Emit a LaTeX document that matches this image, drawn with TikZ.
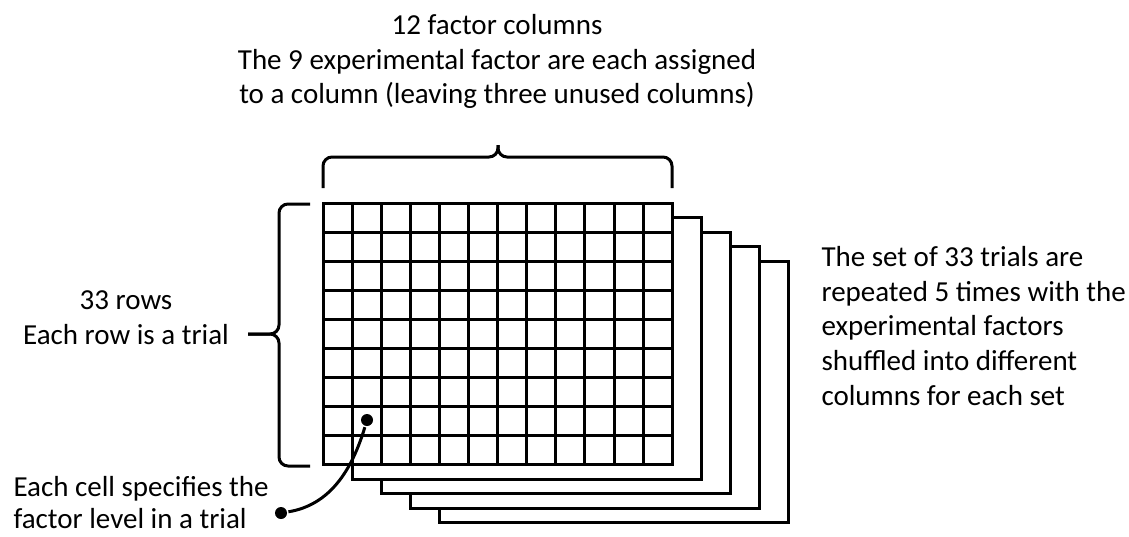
\documentclass[tikz,border=0pt]{standalone}
\usepackage{fontspec}
\setmainfont{Carlito}
\usepackage{tikz}
\usetikzlibrary{calc}

\begin{document}
\begin{tikzpicture}[x=1pt,y=-1pt,line width=3pt,
  txt/.style={inner sep=0pt,font=\fontsize{29}{34.6}\selectfont},
  dot/.style={circle,fill,inner sep=0pt,minimum size=12pt}]
\useasboundingbox (0,0) rectangle (1129,536);
% the four repeated sets behind
\foreach \k in {4,3,2,1}
  \draw[fill=white] (323+29*\k,203+14.5*\k) rectangle ++(349.2,261.9);
% front set: 12 columns x 9 rows
\draw[fill=white] (323,203) rectangle ++(349.2,261.9);
\foreach \i in {1,...,11} \draw (323+29.1*\i,203) -- ++(0,261.9);
\foreach \j in {1,...,8} \draw (323,203+29.1*\j) -- ++(349.2,0);
% braces
\draw[rounded corners=9pt] (323,188) |- (498,157) -- (498,145);
\draw[rounded corners=9pt] (498,145) -- (498,157) -| (672,188);
\draw[rounded corners=9pt] (310,204) -| (279,334) -- (248,334);
\draw[rounded corners=9pt] (248,334) -- (279,334) |- (310,466);
% labels
\node[txt,align=center,anchor=north] (cols) at (497,13)
  {12 factor columns\\The 9 experimental factor are each assigned\\to a column (leaving three unused columns)};
\node[txt,align=center,anchor=north] (rows) at (126,289.5)
  {33 rows\\Each row is a trial};
\node[txt,align=left,anchor=north west] (sets) at (820,245)
  {The set of 33 trials are\\repeated 5 times with the\\experimental factors\\shuffled into different\\columns for each set};
\node[txt,align=left,anchor=north west,font=\fontsize{29}{32}\selectfont] (cellnote) at (12,475)
  {Each cell specifies the\\factor level in a trial};
% pointer from a cell
\node[dot] (cell) at (367,420) {};
\node[dot] (leaf) at (281,513) {};
\draw (cell) .. controls (352,470) and (330,505) .. (leaf);
\end{tikzpicture}
\end{document}
